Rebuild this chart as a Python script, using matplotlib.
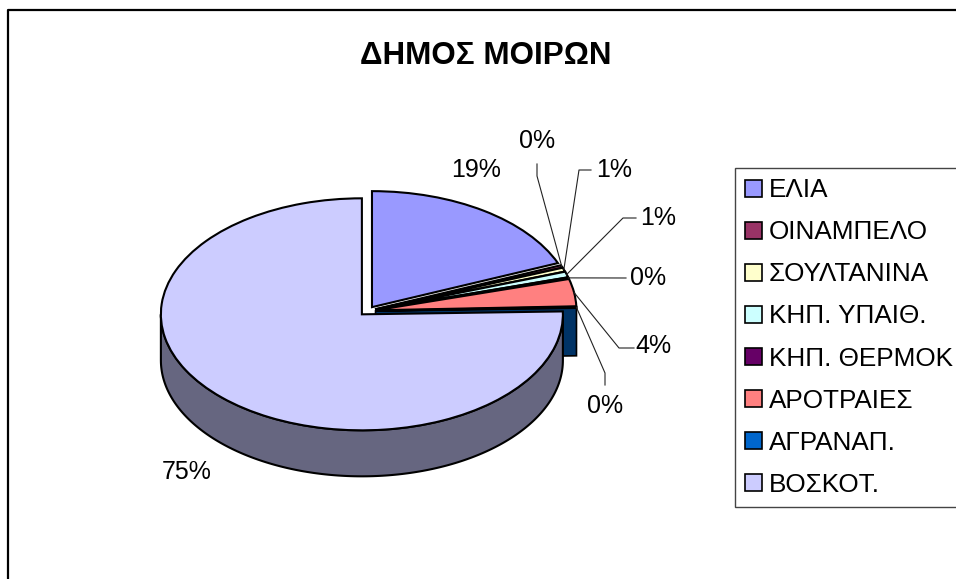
import numpy as np
import matplotlib
matplotlib.use("Agg")
import matplotlib.pyplot as plt

plt.rcParams['font.family'] = ['Liberation Sans', 'DejaVu Sans']

categories = ['ΕΛΙΑ', 'ΟΙΝΑΜΠΕΛΟ', 'ΣΟΥΛΤΑΝΙΝΑ', 'ΚΗΠ. ΥΠΑΙΘ.', 'ΚΗΠ. ΘΕΡΜΟΚ', 'ΑΡΟΤΡΑΙΕΣ', 'ΑΓΡΑΝΑΠ.', 'ΒΟΣΚΟΤ.']
values = [18.8, 0.35, 0.55, 0.8, 0.15, 3.8, 0.15, 75.4]
colors = ['#9999FF', '#993366', '#FFFFCC', '#CCFFFF', '#660066', '#FF8080', '#0066CC', '#CCCCFF']
shade = {6: '#003366', 7: '#666680'}
title = 'ΔΗΜΟΣ ΜΟΙΡΩΝ'

W, H = 956, 579
CX, CY, RX, RY = 367.5, 311.0, 201.0, 116.0
DEPTH = 46.0 / RY
FS = 18.0
LEG_FS = 18.8
LW = 1.5

def d(px, py):
    return (px - CX) / RX, (CY - py) / RY

fig = plt.figure(figsize=(W / 100, H / 100), dpi=100, facecolor='white')
ax = fig.add_axes([0, 0, 1, 1])

wedges, _ = ax.pie(values, colors=colors, startangle=90, counterclock=False,
                   explode=[0.04] * len(values), radius=1, center=(0, 0),
                   wedgeprops=dict(edgecolor='black', linewidth=LW))
ax.set_aspect('auto')
ax.set_xlim(d(0, 0)[0], d(W, 0)[0])
ax.set_ylim(d(0, H)[1], d(0, 0)[1])
ax.set_axis_off()

for i, w in enumerate(wedges):
    w.set_zorder(3 if i == 7 else 4)

# radial face of the tiny ΑΓΡΑΝΑΠ. slice, seen behind the wall of ΒΟΣΚΟΤ.
w = wedges[6]
a = np.deg2rad(w.theta1)
cx, cy = w.center
fx = [cx, cx + np.cos(a), cx + np.cos(a), cx]
fy = [cy, cy + np.sin(a), cy + np.sin(a) - DEPTH * 1.04, cy - DEPTH * 1.04]
ax.fill(fx, fy, facecolor=shade[6], edgecolor='black', linewidth=LW * 0.8, zorder=1)

# outer wall of ΒΟΣΚΟΤ.
w = wedges[7]
cx, cy = w.center
t = np.deg2rad(np.linspace(-180, 0, 200))
rimx = cx + np.cos(t)
rimy = cy + np.sin(t)
ax.fill(np.r_[rimx, rimx[::-1]], np.r_[rimy, rimy[::-1] - DEPTH],
        facecolor=shade[7], edgecolor='black', linewidth=LW, zorder=2)

# percentage labels with leader elbows (pixel layout)
label_pos = [(476, 170), (537, 141), (614, 170), (658, 218), (648, 278), (653, 346), (605, 406), (187, 472)]
elbows = [None, [(537, 164), (537, 176)], [(591, 170), (579, 170)], [(636, 218), (623, 218)],
          [(626, 278)], [(634, 348), (619, 348)], [(605, 385), (605, 373)], None]
for i, v in enumerate(values):
    ax.text(*d(*label_pos[i]), f'{v:.0f}%', fontsize=FS, ha='center', va='center', color='black', zorder=6)
    if elbows[i]:
        w = wedges[i]
        m = np.deg2rad((w.theta1 + w.theta2) / 2)
        ex, ey = w.center[0] + np.cos(m), w.center[1] + np.sin(m)
        pts = [d(*p) for p in elbows[i]] + [(ex, ey)]
        ax.plot([p[0] for p in pts], [p[1] for p in pts], color='#222222', lw=0.8, zorder=5)

ax.text(*d(486, 56), title, fontsize=22.6, fontweight='bold', ha='center', va='center', color='black')

# chart-area border
ax.plot(*zip(d(7.5, H + 5), d(7.5, 9.5), d(W + 5, 9.5)), color='black', lw=1.6, zorder=7, clip_on=False)

leg = ax.legend(wedges, categories, loc='upper left', bbox_to_anchor=(735 / W, 1 - 168 / H),
                bbox_transform=fig.transFigure, fontsize=LEG_FS, frameon=True, fancybox=False,
                edgecolor='#444444', framealpha=1, borderpad=0.40, borderaxespad=0,
                handlelength=0.63, handleheight=0.63, handletextpad=0.27, labelspacing=0.69)
leg.get_frame().set_linewidth(1.0)
leg.set_zorder(8)
for h in leg.get_patches():
    h.set_edgecolor('black')
    h.set_linewidth(1.2)

fig.savefig('out.png', dpi=100)
